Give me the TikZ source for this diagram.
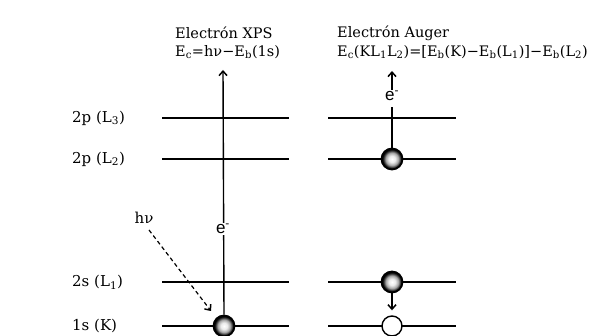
\documentclass[tikz,border=0pt]{standalone}
\usepackage{fontspec}
\setmainfont{DejaVu Serif}
\newfontfamily\esans{Liberation Sans}
\usetikzlibrary{arrows.meta}
\pgfdeclareradialshading{eball}{\pgfpoint{0bp}{0bp}}{color(0bp)=(white); color(8bp)=(black!8); color(15bp)=(black!35); color(20bp)=(black!80); color(23bp)=(black); color(50bp)=(black)}
\begin{document}
\begin{tikzpicture}[x=1pt,y=-1pt,
  level/.style={line width=1.6pt},
  vline/.style={line width=1.4pt},
  txt/.style={inner sep=0pt,anchor=west,font=\fontsize{14.5}{17}\selectfont},
  lab/.style={inner sep=0pt,anchor=west,font=\fontsize{15}{18}\selectfont},
  elab/.style={inner sep=1pt,fill=white,font=\esans\fontsize{17}{19}\selectfont},
  ball/.style={circle,minimum size=21pt,inner sep=0pt,draw=black,line width=1.8pt,shading=eball},
  hole/.style={circle,minimum size=20pt,inner sep=0pt,draw=black,line width=1.4pt,fill=white},
  tip/.style={-{Straight Barb[length=4.5pt,width=8pt,line width=1.5pt]}}
]
\useasboundingbox (0,0) rectangle (594,336);
% headers
\node[txt] (x1) at (175,33) {Electrón XPS};
\node[txt] (x2) at (175,52) {E\textsubscript{c}=hν−E\textsubscript{b}(1s)};
\node[txt] (a1) at (337,33) {Electrón Auger};
\node[txt] (a2) at (337,52) {E\textsubscript{c}(KL\textsubscript{1}L\textsubscript{2})=[E\textsubscript{b}(K)−E\textsubscript{b}(L\textsubscript{1})]−E\textsubscript{b}(L\textsubscript{2})};
% level labels
\node[lab] (n3) at (72,118) {2p (L\textsubscript{3})};
\node[lab] (n2) at (72,159) {2p (L\textsubscript{2})};
\node[lab] (n1) at (72,282) {2s (L\textsubscript{1})};
\node[lab] (nk) at (72,326) {1s (K)};
% levels
\foreach \y/\n in {118/L3,159/L2,282/L1,326/K}{
  \coordinate (l\n a) at (162,\y); \coordinate (l\n b) at (289,\y);
  \coordinate (r\n a) at (328,\y); \coordinate (r\n b) at (456,\y);
  \draw[level] (l\n a) -- (l\n b);
  \draw[level] (r\n a) -- (r\n b);
}
% XPS
\coordinate (xtop) at (223,70);
\node[ball] (kb) at (224,326) {};
\draw[vline,tip] (kb.north) -- (xtop);
\node[elab] (e1) at (223,229) {e\textsuperscript{-}};
\node[inner sep=0pt,font=\fontsize{15}{17}\selectfont] (hv) at (144,218) {hν};
\coordinate (hvend) at (211,311);
\draw[line width=1.2pt,dash pattern=on 4pt off 3pt,tip] (149,230) -- (hvend);
% Auger
\node[ball] (l2b) at (392,159) {};
\coordinate (atop) at (392,107);
\draw[vline] (l2b.north) -- (atop);
\node[elab] (e2) at (392,96) {e\textsuperscript{-}};
\coordinate (atip) at (392,71);
\draw[vline,tip] (e2.north) -- (atip);
\node[ball] (l1b) at (392,282) {};
\node[hole] (kh) at (392,326) {};
\draw[vline,tip,shorten >=5pt] (l1b.south) -- (kh.north);
\end{tikzpicture}
\end{document}
